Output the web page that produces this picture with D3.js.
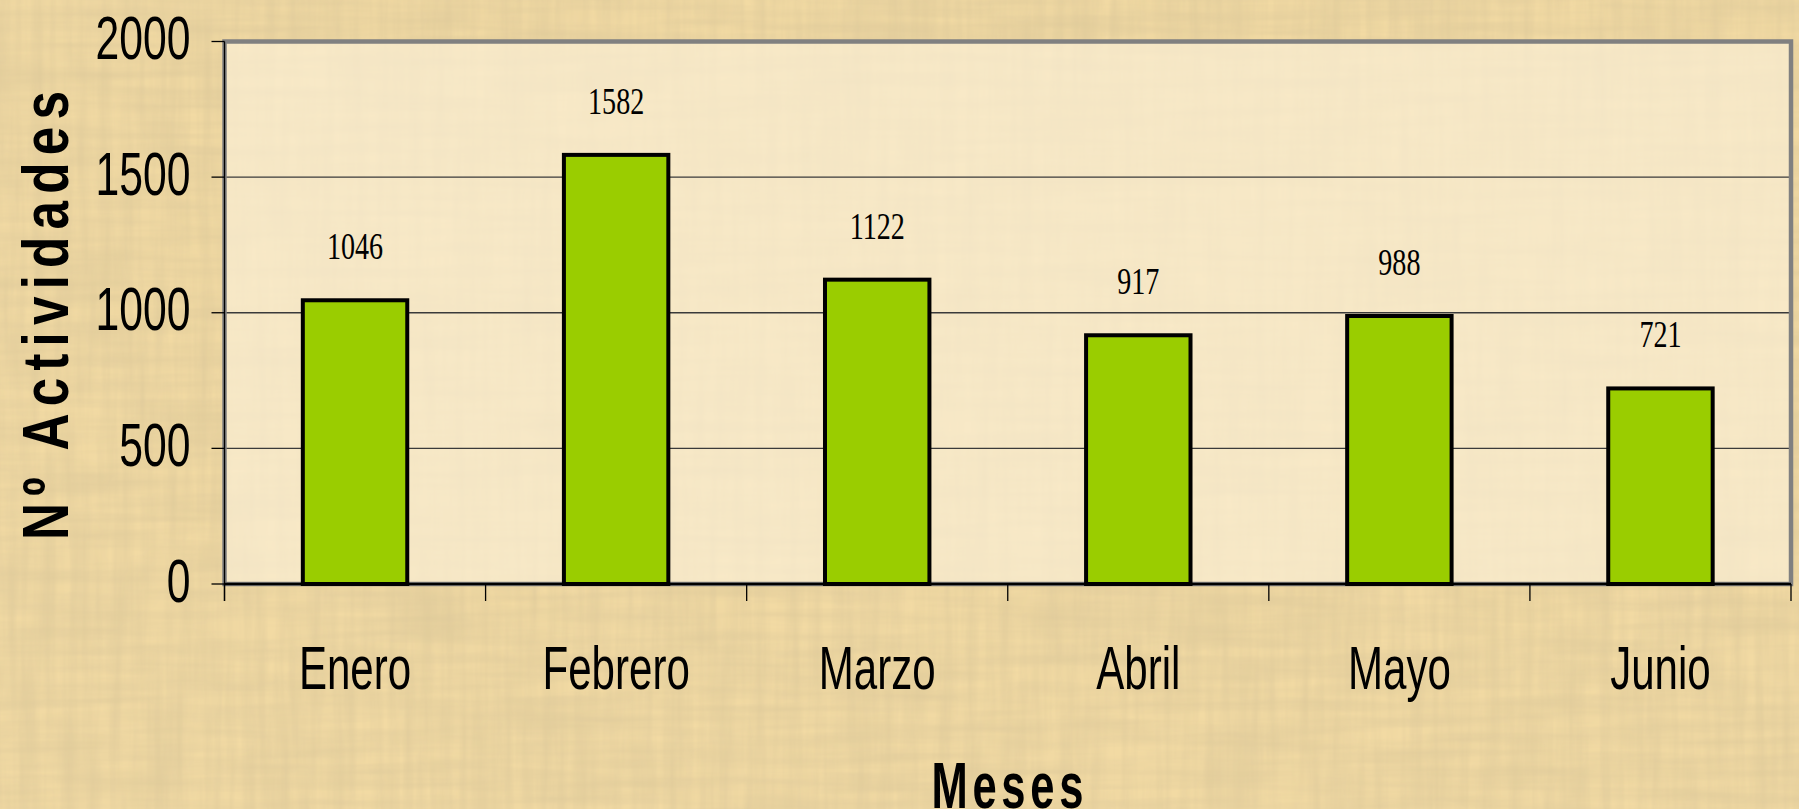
<!DOCTYPE html>
<html>
<head>
<meta charset="utf-8">
<script src="https://cdn.jsdelivr.net/npm/d3@7"></script>
<style>
  body { margin: 0; background: #efd6a0; }
  svg { display: block; }
</style>
</head>
<body>
<div id="main"></div>
<script>
// chart values
const months = ["Enero", "Febrero", "Marzo", "Abril", "Mayo", "Junio"];
const activities = [1046, 1582, 1122, 917, 988, 721];
const yTicks = [0, 500, 1000, 1500, 2000];

const W = 1799, H = 809;
// plot area edges
const margin = { top: 41.5, right: 8, bottom: 225, left: 224.5 },
    width = W - margin.left - margin.right,
    height = H - margin.top - margin.bottom;

const svg = d3.select("#main")
    .append("svg")
    .attr("width", W)
    .attr("height", H);

// papyrus-ish background
const defs = svg.append("defs");
function paperFilter(id, freq, seed, alpha) {
    const f = defs.append("filter").attr("id", id)
        .attr("x", 0).attr("y", 0).attr("width", "100%").attr("height", "100%");
    f.append("feTurbulence")
        .attr("type", "fractalNoise")
        .attr("baseFrequency", freq)
        .attr("numOctaves", 3)
        .attr("seed", seed);
    f.append("feColorMatrix")
        .attr("type", "matrix")
        .attr("values", "0 0 0 0 0.72  0 0 0 0 0.58  0 0 0 0 0.32  " + alpha + " 0 0 0 -0.28");
}
paperFilter("fibV", "0.09 0.006", 4, 0.95);
paperFilter("fibH", "0.006 0.09", 9, 0.95);
paperFilter("blot", "0.02 0.02", 2, 0.7);

svg.append("rect").attr("width", W).attr("height", H).attr("fill", "#f2daa3");
svg.append("rect").attr("width", W).attr("height", H).attr("filter", "url(#fibV)");
svg.append("rect").attr("width", W).attr("height", H).attr("filter", "url(#fibH)");
svg.append("rect").attr("width", W).attr("height", H).attr("filter", "url(#blot)");

const g = svg.append("g")
    .attr("transform", `translate(${margin.left}, ${margin.top})`);

const x = d3.scaleBand()
    .domain(months)
    .range([0, width])
    .paddingInner(0)
    .paddingOuter(0);

const y = d3.scaleLinear()
    .domain([0, 2000])
    .range([height, 0]);

// plot area fill (lighter)
g.append("rect")
    .attr("width", width)
    .attr("height", height)
    .attr("fill", "#fbefd6")
    .attr("fill-opacity", 0.7);

// gridlines
g.append("g")
    .selectAll("line")
    .data(yTicks.filter(d => d > 0 && d < 2000))
    .join("line")
    .attr("x1", 0)
    .attr("x2", width)
    .attr("y1", d => y(d))
    .attr("y2", d => y(d))
    .attr("stroke", "#3a3a3a")
    .attr("stroke-width", 1.3);

// gray frame
g.append("rect")
    .attr("width", width)
    .attr("height", height)
    .attr("fill", "none")
    .attr("stroke", "#808080")
    .attr("stroke-width", 4.5);

// bars
const barW = x.bandwidth() * 0.4;
g.append("g")
    .selectAll("rect")
    .data(activities)
    .join("rect")
    .attr("x", (d, i) => x(months[i]) + (x.bandwidth() - barW) / 2)
    .attr("y", d => y(d))
    .attr("width", barW)
    .attr("height", d => height - y(d))
    .attr("fill", "#9acd00")
    .attr("stroke", "#000")
    .attr("stroke-width", 4);

// value labels
g.append("g")
    .selectAll("text")
    .data(activities)
    .join("text")
    .attr("transform", (d, i) => `translate(${x(months[i]) + x.bandwidth() / 2}, ${y(d) - 41}) scale(0.74,1)`)
    .attr("text-anchor", "middle")
    .style("font-family", "'Liberation Serif', 'Times New Roman', serif")
    .style("font-size", "38px")
    .attr("fill", "#000")
    .text(d => d);

// y axis line + ticks
g.append("line")
    .attr("x1", 0).attr("x2", 0)
    .attr("y1", 0).attr("y2", height + 17)
    .attr("stroke", "#000").attr("stroke-width", 1.3);
g.append("g")
    .selectAll("line")
    .data(yTicks)
    .join("line")
    .attr("x1", -13).attr("x2", 0)
    .attr("y1", d => y(d)).attr("y2", d => y(d))
    .attr("stroke", "#000").attr("stroke-width", 1.3);
g.append("g")
    .selectAll("text")
    .data(yTicks)
    .join("text")
    .attr("transform", d => `translate(-34, ${y(d) + 17.5}) scale(0.7,1)`)
    .attr("text-anchor", "end")
    .style("font-family", "'Liberation Sans', Arial, sans-serif")
    .style("font-size", "61px")
    .text(d => d);

// x axis line + ticks
g.append("line")
    .attr("x1", 0).attr("x2", width)
    .attr("y1", height).attr("y2", height)
    .attr("stroke", "#000").attr("stroke-width", 2.5);
const bounds = months.map(m => x(m)).concat([width]);
g.append("g")
    .selectAll("line")
    .data(bounds)
    .join("line")
    .attr("x1", d => d).attr("x2", d => d)
    .attr("y1", height).attr("y2", height + 17)
    .attr("stroke", "#000").attr("stroke-width", 1.3);
g.append("g")
    .selectAll("text")
    .data(months)
    .join("text")
    .attr("transform", d => `translate(${x(d) + x.bandwidth() / 2}, ${689 - margin.top}) scale(0.69,1)`)
    .attr("text-anchor", "middle")
    .style("font-family", "'Liberation Sans', Arial, sans-serif")
    .style("font-size", "61px")
    .text(d => d);

// axis titles
svg.append("text")
    .attr("transform", `translate(${margin.left + width / 2 + 2}, 808) scale(0.67,1)`)
    .attr("text-anchor", "middle")
    .style("font-family", "'Liberation Sans', Arial, sans-serif")
    .style("font-size", "65px")
    .style("font-weight", "bold")
    .style("letter-spacing", "7px")
    .text("Meses");

svg.append("text")
    .attr("transform", "translate(68, 312) rotate(-90) scale(0.8,1)")
    .attr("text-anchor", "middle")
    .style("font-family", "'Liberation Sans', Arial, sans-serif")
    .style("font-size", "64px")
    .style("font-weight", "bold")
    .style("letter-spacing", "9px")
    .text("Nº Actividades");
</script>
</body>
</html>
